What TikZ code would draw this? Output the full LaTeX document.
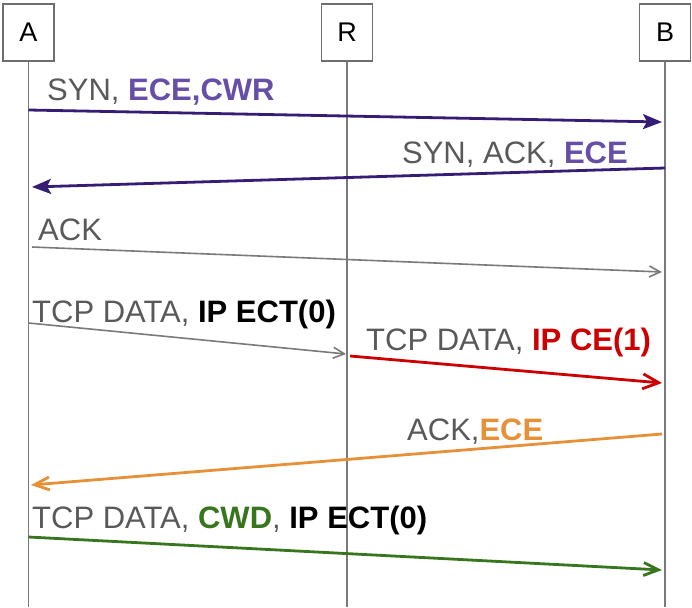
\documentclass[tikz,border=0pt]{standalone}
\usepackage{fontspec}
\setmainfont{Liberation Sans}
\usepackage{xcolor}
\usetikzlibrary{arrows.meta}
\definecolor{boxgray}{HTML}{6E6E6E}
\definecolor{linegray}{HTML}{7A7A7A}
\definecolor{txtgray}{HTML}{595959}
\definecolor{purpline}{HTML}{351C75}
\definecolor{purptext}{HTML}{674EA7}
\definecolor{ecnred}{HTML}{CC0000}
\definecolor{ackorange}{HTML}{E69138}
\definecolor{cwdgreen}{HTML}{38761D}
\tikzset{
  host/.style={draw=boxgray, line width=1.6pt, minimum width=51pt, minimum height=57pt,
    inner sep=0pt, text=black, font=\fontsize{27}{32}\selectfont},
  life/.style={draw=linegray, line width=1.5pt},
  msg/.style={text=txtgray, inner sep=0pt, font=\fontsize{31}{36}\selectfont},
  synmsg/.style={draw=purpline, line width=2.8pt, -{Stealth[length=19pt, width=15pt, inset=4pt]}},
  ackmsg/.style={draw=linegray, line width=1.6pt, -{Straight Barb[length=11pt, width=11pt]}},
  redmsg/.style={draw=ecnred, line width=2.8pt, -{Straight Barb[length=16pt, width=15pt]}},
  echomsg/.style={draw=ackorange, line width=2.8pt, -{Straight Barb[length=15pt, width=13pt]}},
  cwdmsg/.style={draw=cwdgreen, line width=2.8pt, -{Straight Barb[length=15pt, width=13pt]}}
}

\begin{document}
\begin{tikzpicture}[x=1pt, y=-1pt]
  \useasboundingbox (0,0) rectangle (692,607);

  % hosts and lifelines
  \node[host] (A) at (28.5,32.5) {A};
  \node[host] (R) at (347,32.5) {R};
  \node[host] (B) at (665,32.5) {B};
  \coordinate (Aend) at (28.5,607);
  \coordinate (Rend) at (347,607);
  \coordinate (Bend) at (665,607);
  \draw[life] (A) -- (Aend);
  \draw[life] (R) -- (Rend);
  \draw[life] (B) -- (Bend);

  % handshake
  \coordinate (syn0) at (28.5,110);
  \coordinate (syn1) at (662,122);
  \draw[synmsg] (syn0) -- (syn1);
  \node[msg, anchor=base west] (synlab) at (47,100)
    {SYN, \textcolor{purptext}{\bfseries ECE,CWR}};

  \coordinate (synack0) at (665,168);
  \coordinate (synack1) at (32,187);
  \draw[synmsg] (synack0) -- (synack1);
  \node[msg, anchor=base east] (synacklab) at (628,163)
    {SYN, ACK, \textcolor{purptext}{\bfseries ECE}};

  \coordinate (ack0) at (32,247);
  \coordinate (ack1) at (662,272);
  \draw[ackmsg] (ack0) -- (ack1);
  \node[msg, anchor=base west] (acklab) at (38,240) {ACK};

  % data marked at the router
  \coordinate (ect0) at (28.5,323);
  \coordinate (ect1) at (346,354);
  \draw[ackmsg] (ect0) -- (ect1);
  \node[msg, anchor=base west] (ectlab) at (32,322)
    {TCP DATA, \textcolor{black}{\bfseries IP ECT(0)}};

  \coordinate (ce0) at (350,356);
  \coordinate (ce1) at (662,383);
  \draw[redmsg] (ce0) -- (ce1);
  \node[msg, anchor=base west] (celab) at (366,350)
    {TCP DATA, \textcolor{ecnred}{\bfseries IP CE(1)}};

  % echo and window reduction
  \coordinate (echo0) at (662,434);
  \coordinate (echo1) at (31,485);
  \draw[echomsg] (echo0) -- (echo1);
  \node[msg, anchor=base west] (echolab) at (407,440)
    {ACK,\textcolor{ackorange}{\bfseries ECE}};

  \coordinate (cwd0) at (28.5,537);
  \coordinate (cwd1) at (662,570);
  \draw[cwdmsg] (cwd0) -- (cwd1);
  \node[msg, anchor=base west] (cwdlab) at (32,528)
    {TCP DATA, \textcolor{cwdgreen}{\bfseries CWD}, \textcolor{black}{\bfseries IP ECT(0)}};
\end{tikzpicture}
\end{document}
